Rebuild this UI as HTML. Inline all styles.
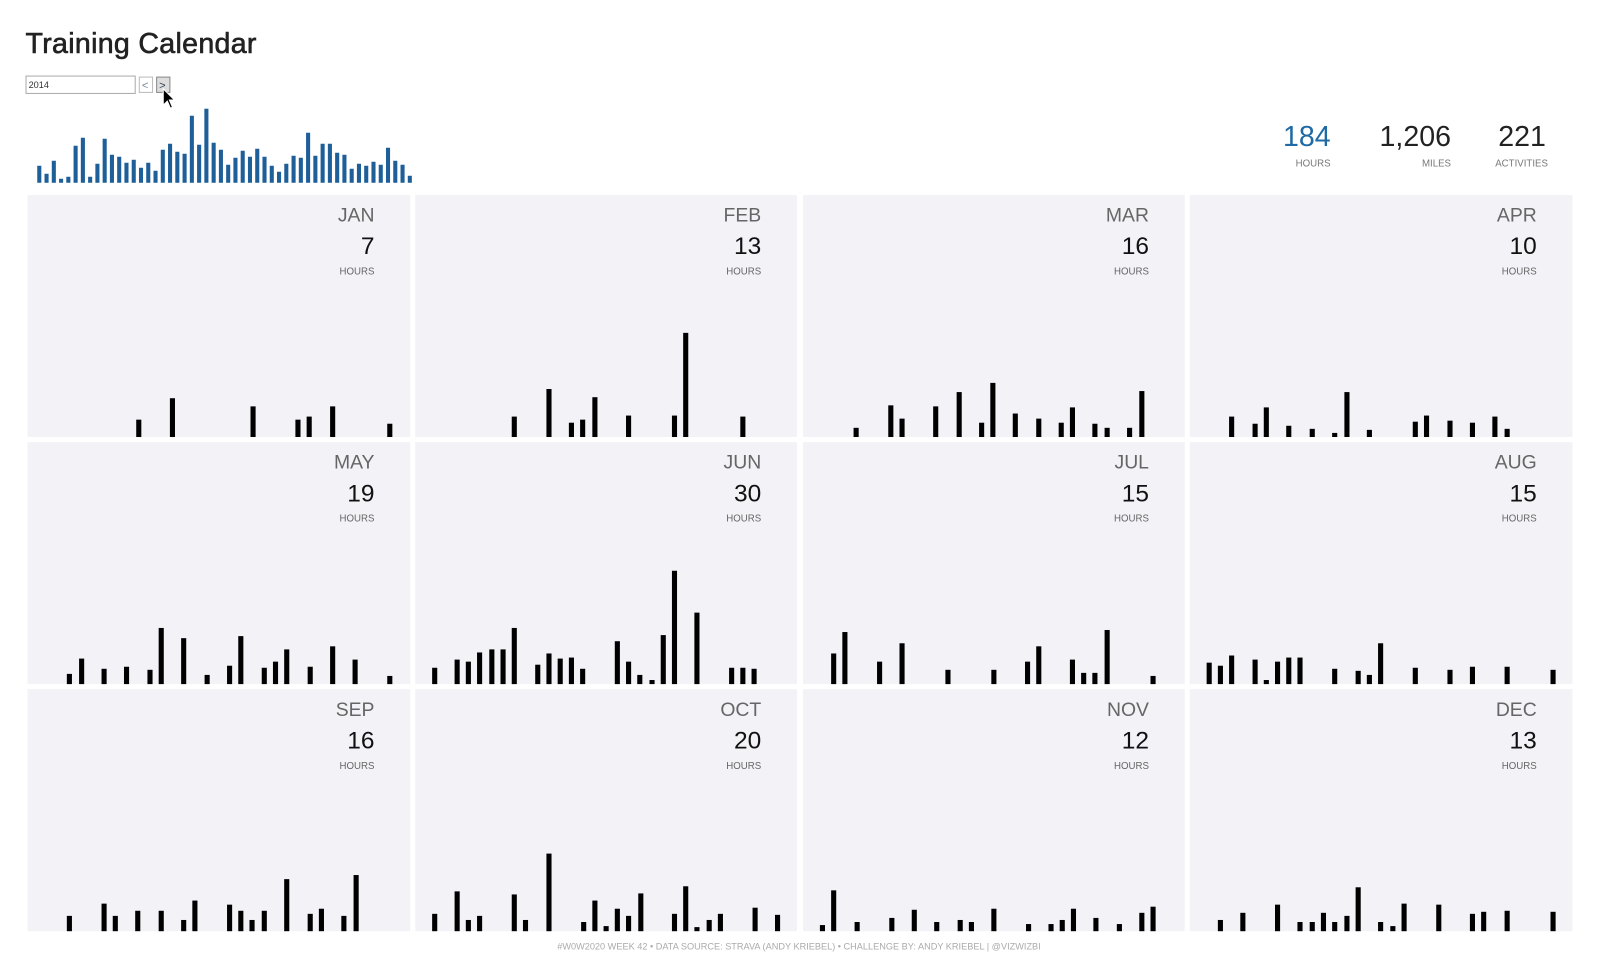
<!DOCTYPE html>
<html><head><meta charset="utf-8"><style>
html,body{margin:0;padding:0;background:#fff;}
svg{display:block;font-family:"Liberation Sans",sans-serif;}
</style></head><body>
<svg id="s" width="1600" height="970" viewBox="0 0 1568 950" preserveAspectRatio="none" xmlns="http://www.w3.org/2000/svg">
<text x="25" y="52" font-size="28" fill="#222" stroke="#222" stroke-width="0.6" letter-spacing="0.3">Training Calendar</text>
<rect x="25.5" y="74.5" width="107" height="17" fill="#fff" stroke="#aaa"/>
<text x="28" y="86" font-size="9" fill="#333">2014</text>
<rect x="136.5" y="75.5" width="13" height="15" fill="#fff" stroke="#bbb"/>
<text x="139" y="87" font-size="11" fill="#789">&lt;</text>
<rect x="153.5" y="75.5" width="13" height="15" fill="#ddd" stroke="#888"/>
<text x="156" y="87" font-size="11" fill="#345">&gt;</text>
<path d="M160 87 L160 103 L164 99 L167 106 L169 105 L166 98 L171 98 Z" fill="#000" stroke="#fff" stroke-width="1"/>
<g id="blue" fill="#1f5f99"></g>
<g id="panels"></g>
<g font-size="28" text-anchor="end">
<text x="1304" y="143" fill="#1f6aa5">184</text>
<text x="1422" y="143" fill="#222">1,206</text>
<text x="1515" y="143" fill="#222">221</text>
</g>
<g font-size="9.5" text-anchor="end" fill="#777">
<text x="1304" y="163">HOURS</text>
<text x="1422" y="163">MILES</text>
<text x="1517" y="163">ACTIVITIES</text>
</g>
<text x="783" y="930" font-size="9" fill="#aaa" text-anchor="middle">#W0W2020 WEEK 42  •  DATA SOURCE: STRAVA (ANDY KRIEBEL)  •  CHALLENGE BY: ANDY KRIEBEL | @VIZWIZBI</text>
</svg>
<script>
var NS="http://www.w3.org/2000/svg";
function el(p,t,a,txt){var e=document.createElementNS(NS,t);for(var k in a)e.setAttribute(k,a[k]);if(txt)e.textContent=txt;p.appendChild(e);return e;}
var bh=[17,9,22,4,6,37,45,6,19,44,28,26,20,23,15,20,12,33,39,31,29,67,38,74,40,33,18,25,32,26,34,26,17,11,19,27,25,50,27,39,39,30,28,14,19,17,21,18,35,22,18,7];
var b=document.getElementById('blue');
bh.forEach(function(h,i){var hh=h*0.98;el(b,'rect',{x:36.5+i*7.12,y:179-hh,width:4,height:hh});});
var cols=[[27,402],[407,781],[787,1161],[1166,1541]];
var rows=[[191,428],[433,670],[675,912]];
var names=["JAN","FEB","MAR","APR","MAY","JUN","JUL","AUG","SEP","OCT","NOV","DEC"];
var hrs=[7,13,16,10,19,30,15,15,16,20,12,13];
var data=[
[[136,17],[169,38],[248,30],[292,17],[303,20],[326,30],[382,13]],
[[504,20],[538,47],[560,14],[571,17],[583,39],[616,21],[661,21],[672,102],[728,20]],
[[839,9],[873,31],[884,18],[917,30],[940,44],[962,14],[973,53],[995,23],[1018,18],[1040,14],[1051,29],[1073,13],[1085,9],[1107,9],[1119,45]],
[[1207,20],[1230,13],[1241,29],[1263,11],[1286,8],[1308,4],[1320,44],[1342,7],[1387,15],[1398,21],[1421,16],[1443,14],[1465,20],[1477,8]],
[[68,10],[80,25],[102,15],[124,17],[147,14],[158,55],[180,45],[203,9],[225,18],[236,47],[259,16],[270,22],[281,34],[304,17],[326,37],[348,24],[382,8]],
[[426,16],[448,24],[459,22],[470,31],[482,34],[493,34],[504,55],[527,19],[538,30],[549,25],[560,26],[571,15],[605,42],[616,22],[627,9],[639,4],[650,48],[661,111],[683,70],[717,16],[728,16],[739,15]],
[[817,30],[828,51],[862,22],[884,40],[929,14],[974,14],[1007,22],[1018,37],[1051,24],[1062,11],[1073,11],[1085,53],[1130,8]],
[[1185,21],[1196,18],[1207,28],[1230,24],[1241,4],[1252,22],[1263,26],[1274,26],[1308,15],[1331,13],[1342,9],[1353,40],[1387,16],[1421,14],[1443,17],[1477,17],[1522,14]],
[[68,15],[102,27],[113,15],[135,20],[158,20],[180,11],[191,30],[225,26],[236,20],[247,11],[259,20],[281,51],[304,17],[315,22],[337,15],[349,55]],
[[426,17],[448,39],[459,11],[470,15],[504,36],[515,11],[538,76],[572,9],[583,30],[594,5],[605,22],[616,15],[628,37],[661,17],[672,44],[683,4],[695,11],[706,17],[740,23],[762,16]],
[[806,6],[817,40],[840,9],[874,13],[896,21],[918,9],[941,11],[952,9],[974,22],[1008,7],[1030,7],[1041,11],[1052,22],[1074,13],[1097,7],[1119,18],[1130,24]],
[[1196,11],[1218,18],[1252,26],[1274,9],[1286,9],[1297,18],[1308,9],[1320,15],[1331,43],[1353,9],[1365,5],[1376,27],[1410,26],[1443,17],[1454,19],[1477,20],[1522,19]]
];
var P=document.getElementById('panels');
for(var i=0;i<12;i++){
 var c=cols[i%4],r=rows[Math.floor(i/4)];
 el(P,'rect',{x:c[0],y:r[0],width:c[1]-c[0],height:r[1]-r[0],fill:'#f2f2f7'});
 var tx=c[1]-35;
 el(P,'text',{x:tx,y:r[0]+26,'font-size':19,fill:'#666','text-anchor':'end'},names[i]);
 el(P,'text',{x:tx,y:r[0]+58,'font-size':24,fill:'#111','text-anchor':'end'},String(hrs[i]));
 el(P,'text',{x:tx,y:r[0]+78,'font-size':9.5,fill:'#666','text-anchor':'end'},'HOURS');
 data[i].forEach(function(d){el(P,'rect',{x:d[0]-2.5,y:r[1]-d[1],width:5,height:d[1],fill:'#000'});});
}
</script>
</body></html>
